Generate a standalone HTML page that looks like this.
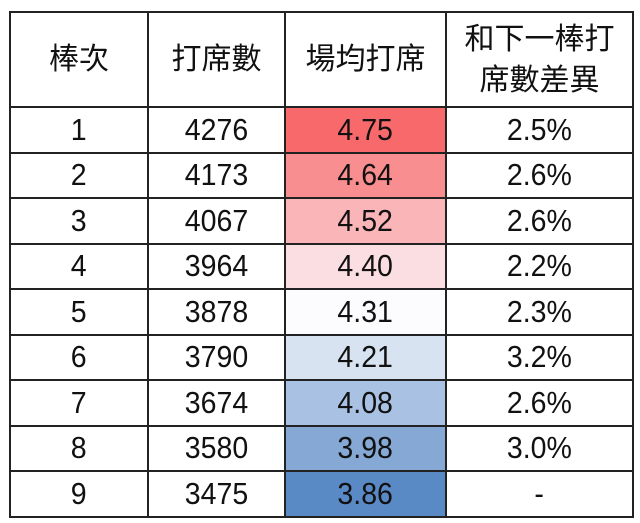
<!DOCTYPE html>
<html><head><meta charset="utf-8"><style>
body{margin:0;background:#fff;width:640px;height:523px;overflow:hidden}
table{position:absolute;left:9px;top:11px;border-collapse:collapse;font-family:"Liberation Sans","Noto Sans CJK TC",sans-serif;color:#111}
td{border:2px solid #222;text-align:center;padding:0;font-size:31px;height:43.5px;line-height:30px;transform-origin:center}
td span{display:inline-block;transform:scaleX(0.92)}
tr.h td{height:93px;font-size:30px;line-height:41px}
</style></head><body>
<table>
<colgroup><col style="width:138px"><col style="width:137px"><col style="width:161px"><col style="width:187px"></colgroup>
<tr class="h"><td>棒次</td><td>打席數</td><td>場均打席</td><td>和下一棒打<br>席數差異</td></tr>
<tr><td><span>1</span></td><td><span>4276</span></td><td style="background:#f8696b"><span>4.75</span></td><td><span>2.5%</span></td></tr>
<tr><td><span>2</span></td><td><span>4173</span></td><td style="background:#f98e90"><span>4.64</span></td><td><span>2.6%</span></td></tr>
<tr><td><span>3</span></td><td><span>4067</span></td><td style="background:#fab5b8"><span>4.52</span></td><td><span>2.6%</span></td></tr>
<tr><td><span>4</span></td><td><span>3964</span></td><td style="background:#fbdee1"><span>4.40</span></td><td><span>2.2%</span></td></tr>
<tr><td><span>5</span></td><td><span>3878</span></td><td style="background:#fcfcff"><span>4.31</span></td><td><span>2.3%</span></td></tr>
<tr><td><span>6</span></td><td><span>3790</span></td><td style="background:#d8e3f2"><span>4.21</span></td><td><span>3.2%</span></td></tr>
<tr><td><span>7</span></td><td><span>3674</span></td><td style="background:#a9c1e2"><span>4.08</span></td><td><span>2.6%</span></td></tr>
<tr><td><span>8</span></td><td><span>3580</span></td><td style="background:#85a8d5"><span>3.98</span></td><td><span>3.0%</span></td></tr>
<tr><td><span>9</span></td><td><span>3475</span></td><td style="background:#5a8ac6"><span>3.86</span></td><td><span>-</span></td></tr>
</table>
</body></html>
